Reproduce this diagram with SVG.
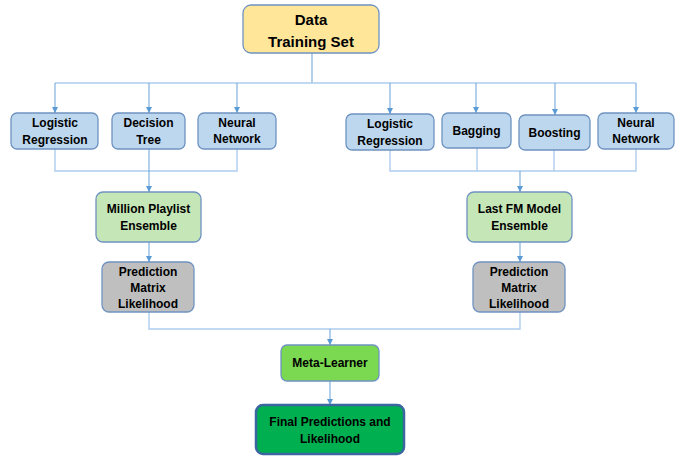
<svg xmlns="http://www.w3.org/2000/svg" width="686" height="459" viewBox="0 0 686 459">
<style>
.b{stroke:#6F93C0;stroke-width:1.3}
.blue{fill:#BDD7EE}
.lg{fill:#C5E6B6}
.gr{fill:#BFBFBF}
text{font-family:"Liberation Sans",Arial,sans-serif;font-weight:bold;font-size:12px;fill:#000;text-anchor:middle}
.c{fill:none;stroke:#74A9DD;stroke-width:1.1}
.h{fill:none;stroke:#ADCDEE;stroke-width:1.4}
</style>
<defs>
<marker id="a" viewBox="0 0 10 10" refX="10" refY="5" markerWidth="6" markerHeight="6" orient="auto" markerUnits="userSpaceOnUse">
<path d="M0,0L10,5L0,10z" fill="#5B9BD5"/>
</marker>
</defs>
<rect width="686" height="459" fill="#fff"/>
<g id="connectors">
<path class="c" d="M312,53V83"/>
<path class="h" d="M55,83H636"/>
<path class="c" d="M55,83V113" marker-end="url(#a)"/>
<path class="c" d="M149,83V113" marker-end="url(#a)"/>
<path class="c" d="M237,83V113" marker-end="url(#a)"/>
<path class="c" d="M390,83V114" marker-end="url(#a)"/>
<path class="c" d="M476,83V113" marker-end="url(#a)"/>
<path class="c" d="M555,83V115" marker-end="url(#a)"/>
<path class="c" d="M636,83V113" marker-end="url(#a)"/>
<path class="h" d="M55,149V171H237V149"/>
<path class="c" d="M149,149V192" marker-end="url(#a)"/>
<path class="h" d="M390,150V171H636V149"/>
<path class="h" d="M477,148V171"/>
<path class="h" d="M554,150V171"/>
<path class="c" d="M520,171V192" marker-end="url(#a)"/>
<path class="c" d="M149,242V262" marker-end="url(#a)"/>
<path class="c" d="M520,242V262" marker-end="url(#a)"/>
<path class="h" d="M149,312V329H520V312"/>
<path class="c" d="M330,329V345" marker-end="url(#a)"/>
<path class="c" d="M330,381V405" marker-end="url(#a)"/>
</g>
<g id="data">
<rect class="b" x="243" y="5" width="136" height="48" rx="8" fill="#FFE699"/>
<text x="311" y="25" style="font-size:15px">Data</text>
<text x="311" y="47" style="font-size:15px">Training Set</text>
</g>
<g id="lr1">
<rect class="b blue" x="11" y="113" width="87" height="36" rx="6"/>
<text x="55" y="127">Logistic</text>
<text x="55" y="144">Regression</text>
</g>
<g id="dt">
<rect class="b blue" x="112" y="113" width="73" height="36" rx="6"/>
<text x="148.5" y="127">Decision</text>
<text x="148.5" y="144">Tree</text>
</g>
<g id="nn1">
<rect class="b blue" x="198" y="113" width="78" height="36" rx="6"/>
<text x="237" y="127">Neural</text>
<text x="237" y="143">Network</text>
</g>
<g id="lr2">
<rect class="b blue" x="346" y="114" width="88" height="36" rx="6"/>
<text x="390" y="128">Logistic</text>
<text x="390" y="145">Regression</text>
</g>
<g id="bagging">
<rect class="b blue" x="442" y="113" width="69" height="35" rx="6"/>
<text x="476.5" y="135">Bagging</text>
</g>
<g id="boosting">
<rect class="b blue" x="519" y="115" width="71" height="35" rx="6"/>
<text x="554.5" y="137">Boosting</text>
</g>
<g id="nn2">
<rect class="b blue" x="598" y="113" width="76" height="36" rx="6"/>
<text x="636" y="127">Neural</text>
<text x="636" y="143">Network</text>
</g>
<g id="mpe">
<rect class="b lg" x="96" y="192" width="105" height="50" rx="7"/>
<text x="148.5" y="213">Million Playlist</text>
<text x="148.5" y="230">Ensemble</text>
</g>
<g id="lfm">
<rect class="b lg" x="467" y="192" width="105" height="50" rx="7"/>
<text x="519.5" y="213">Last FM Model</text>
<text x="519.5" y="230">Ensemble</text>
</g>
<g id="pm1">
<rect class="b gr" x="102" y="262" width="92" height="50" rx="7"/>
<text x="148" y="276">Prediction</text>
<text x="148" y="292">Matrix</text>
<text x="148" y="308">Likelihood</text>
</g>
<g id="pm2">
<rect class="b gr" x="473" y="262" width="92" height="50" rx="7"/>
<text x="519" y="276">Prediction</text>
<text x="519" y="292">Matrix</text>
<text x="519" y="308">Likelihood</text>
</g>
<g id="meta">
<rect class="b" x="281" y="345" width="98" height="36" rx="6" fill="#7AD951"/>
<text x="330" y="367">Meta-Learner</text>
</g>
<g id="final">
<rect x="256" y="405" width="148" height="49" rx="7" fill="#00B050" stroke="#3B66A0" stroke-width="2.5"/>
<text x="330" y="426">Final Predictions and</text>
<text x="330" y="443">Likelihood</text>
</g>
</svg>
